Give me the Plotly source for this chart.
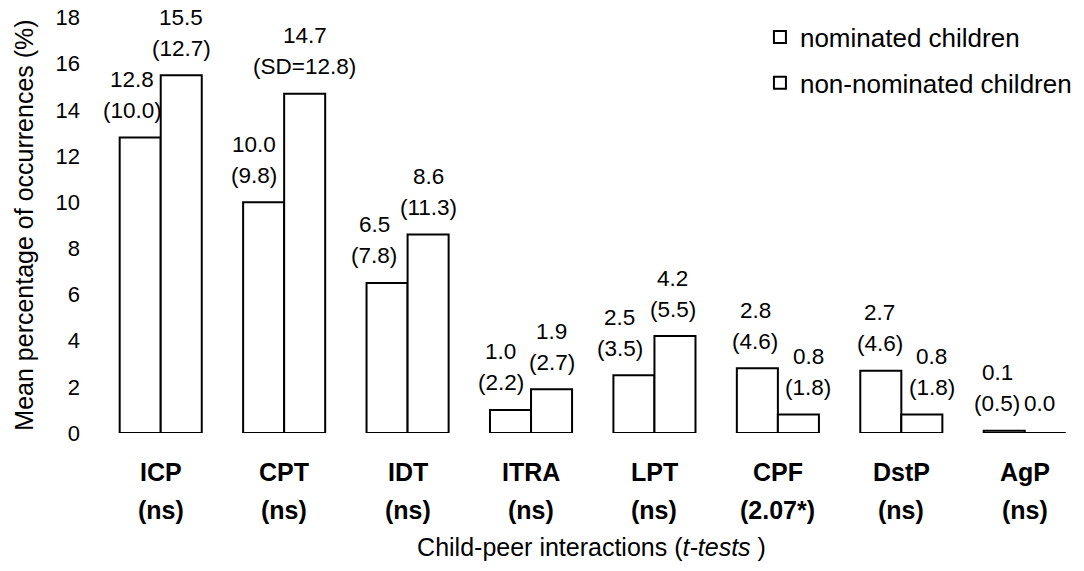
import plotly.graph_objects as go

categories = ["ICP", "CPT", "IDT", "ITRA", "LPT", "CPF", "DstP", "AgP"]
t_tests = ["(ns)", "(ns)", "(ns)", "(ns)", "(ns)", "(2.07*)", "(ns)", "(ns)"]

nominated_mean = [12.8, 10.0, 6.5, 1.0, 2.5, 2.8, 2.7, 0.1]
nominated_sd = ["(10.0)", "(9.8)", "(7.8)", "(2.2)", "(3.5)", "(4.6)", "(4.6)", "(0.5)"]
non_nominated_mean = [15.5, 14.7, 8.6, 1.9, 4.2, 0.8, 0.8, 0.0]
non_nominated_sd = ["(12.7)", "(SD=12.8)", "(11.3)", "(2.7)", "(5.5)", "(1.8)", "(1.8)", None]

y_ticks = [0, 2, 4, 6, 8, 10, 12, 14, 16, 18]

# label nudges (px) relative to each bar centre
nom_nudge = [-8, -10, -13, -10, -14, -2, -1, -7]
non_nudge = [0, 0, 0, 0, -2, 10, 10, -6]

FONT = "Liberation Sans, Arial, sans-serif"
LBL = 22.5

fig = go.Figure()
bar_style = dict(marker=dict(color="white", line=dict(color="black", width=2)),
                 hoverinfo="skip")
fig.add_trace(go.Bar(x=categories, y=nominated_mean, name="nominated children",
                     legendgroup="a", **bar_style))
fig.add_trace(go.Bar(x=categories, y=non_nominated_mean, name="non-nominated children",
                     legendgroup="b", **bar_style))

half = 20.5
ann = []
for series, sds, sgn, nudge in [(nominated_mean, nominated_sd, -1, nom_nudge),
                                (non_nominated_mean, non_nominated_sd, 1, non_nudge)]:
    for i, c in enumerate(categories):
        xs = sgn * half + nudge[i]
        m = series[i]
        sd = sds[i]
        if sd is not None:
            ann.append(dict(x=c, y=m, xref="x", yref="y", text=sd, showarrow=False,
                            xshift=xs, yshift=27, yanchor="middle",
                            font=dict(size=LBL, family=FONT, color="black")))
            ann.append(dict(x=c, y=m, xref="x", yref="y", text=f"{m:.1f}", showarrow=False,
                            xshift=xs, yshift=58, yanchor="middle",
                            font=dict(size=LBL, family=FONT, color="black")))
        else:
            ann.append(dict(x=c, y=m, xref="x", yref="y", text=f"{m:.1f}", showarrow=False,
                            xshift=xs, yshift=30, yanchor="middle",
                            font=dict(size=LBL, family=FONT, color="black")))

for i, c in enumerate(categories):
    ann.append(dict(x=c, y=0, xref="x", yref="y", text=f"<b>{c}</b>", showarrow=False,
                    yshift=-39, yanchor="middle",
                    font=dict(size=25, family=FONT, color="black")))
    ann.append(dict(x=c, y=0, xref="x", yref="y", text=f"<b>{t_tests[i]}</b>", showarrow=False,
                    yshift=-77, yanchor="middle",
                    font=dict(size=25, family=FONT, color="black")))

fig.update_layout(
    width=1084, height=571,
    margin=dict(l=99, r=0, t=17, b=138),
    paper_bgcolor="white", plot_bgcolor="white",
    barmode="group", bargap=0.335, bargroupgap=0,
    font=dict(family=FONT, color="black"),
    annotations=ann,
    legend=dict(x=0.671, y=1.008, xanchor="left", yanchor="top",
                font=dict(size=26, family=FONT, color="black"),
                tracegroupgap=9, bgcolor="rgba(0,0,0,0)"),
    xaxis=dict(range=[-0.5, 7.48], showticklabels=False, showgrid=False,
               zeroline=False, showline=False, ticks="",
               title=dict(text="Child-peer interactions (<i>t-tests</i> )",
                          font=dict(size=25, family=FONT, color="black"),
                          standoff=105)),
    yaxis=dict(range=[0, 18.02], tickvals=y_ticks, showgrid=False, zeroline=False,
               showline=False, ticks="", ticklabelstandoff=18,
               tickfont=dict(size=22, family=FONT, color="black"),
               title=dict(text="Mean percentage of occurrences (%)",
                          font=dict(size=25, family=FONT, color="black"),
                          standoff=14)),
)

fig.write_html("out.html")
